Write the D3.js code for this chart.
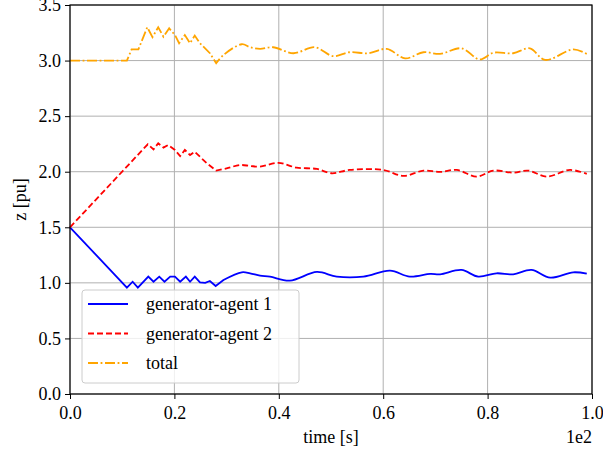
<!DOCTYPE html>
<html>
<head>
<meta charset="utf-8">
<script src="https://cdn.jsdelivr.net/npm/d3@7"></script>
<style>
  body { margin: 0; background: #fff; }
  svg text { font-family: "Liberation Serif", "Times New Roman", "DejaVu Serif", serif; fill: #000; }
</style>
</head>
<body>
<div id="chart"></div>
<script>
// data (time in s, z in pu)
const gen1T = [0, 10.9, 12.0, 13.0, 15.0, 16.0, 17.1, 18.1, 19.2, 20.1, 21.1, 22.2, 23.0, 23.9, 24.9, 25.9, 26.8, 27.9, 29.4, 32.9, 34.5, 36.4, 38.3, 42.1, 47.3, 51.1, 56.2, 61.3, 65.1, 69.0, 70.9, 75.0, 78.2, 81.7, 84.9, 88.4, 92.0, 96.4, 99.0];
const gen1Z = [1.5, 0.957, 1.01, 0.957, 1.056, 1.01, 1.056, 1.01, 1.056, 1.056, 1.01, 1.056, 1.01, 1.056, 1.005, 1.0, 1.017, 0.972, 1.026, 1.095, 1.086, 1.065, 1.056, 1.02, 1.098, 1.056, 1.056, 1.11, 1.056, 1.08, 1.077, 1.116, 1.056, 1.086, 1.077, 1.116, 1.047, 1.095, 1.083];

const gen2T = [0, 14.9, 16.0, 16.9, 17.9, 18.8, 20.1, 21.1, 22.0, 23.0, 23.9, 26.2, 28.0, 30.0, 32.6, 34.5, 36.4, 39.9, 43.4, 47.3, 50.1, 53.6, 60.0, 63.9, 67.7, 70.9, 74.1, 77.9, 81.1, 84.9, 87.8, 91.3, 95.8, 99.0];
const gen2Z = [1.5, 2.247, 2.20, 2.256, 2.217, 2.24, 2.196, 2.14, 2.196, 2.15, 2.18, 2.076, 2.01, 2.03, 2.06, 2.052, 2.046, 2.08, 2.037, 2.025, 1.986, 2.016, 2.016, 1.962, 2.01, 1.998, 2.016, 1.956, 2.01, 1.992, 2.01, 1.956, 2.016, 1.98];

const totalT = [0, 10.9, 11.8, 13.1, 14.8, 15.8, 16.9, 17.9, 19.0, 20.1, 20.9, 22.0, 23.0, 23.9, 24.9, 26.8, 28.0, 29.4, 32.9, 34.5, 36.4, 38.9, 42.8, 46.9, 50.4, 53.6, 57.1, 60.7, 64.2, 67.7, 70.9, 75.0, 78.5, 81.1, 84.9, 88.1, 91.0, 96.4, 99.0];
const totalZ = [3.0, 3.0, 3.10, 3.10, 3.30, 3.21, 3.30, 3.215, 3.29, 3.23, 3.156, 3.23, 3.156, 3.225, 3.156, 3.066, 2.976, 3.05, 3.147, 3.12, 3.105, 3.12, 3.066, 3.12, 3.04, 3.075, 3.066, 3.105, 3.02, 3.075, 3.06, 3.11, 3.01, 3.07, 3.066, 3.11, 3.006, 3.1, 3.06];

const xTicks = [0, 20, 40, 60, 80, 100];
const yTicks = [0, 0.5, 1.0, 1.5, 2.0, 2.5, 3.0, 3.5];

const seriesNames = ['generator-agent 1', 'generator-agent 2', 'total'];
const seriesColors = ['#0000ff', '#ff0000', '#ffa500'];
const seriesDash = ['none', '6,3', '10,2.6,1.8,2.6'];

// after this time the traces are smooth oscillations
const smoothFrom = 28;

const width = 603, height = 450;
const margin = { left: 70, right: 11, top: 5, bottom: 56 };
const fontSize = '18px';

const svg = d3.select('#chart').append('svg')
    .attr('width', width)
    .attr('height', height);

const x = d3.scaleLinear().domain([0, 100]).range([margin.left, width - margin.right]);
const y = d3.scaleLinear().domain([0, 3.5]).range([height - margin.bottom, margin.top]);

// grid
const grid = svg.append('g');
grid.selectAll('line.vx').data(xTicks).enter().append('line')
    .attr('x1', d => x(d)).attr('x2', d => x(d))
    .attr('y1', y(0)).attr('y2', y(3.5))
    .style('stroke', '#b0b0b0').style('stroke-width', 1);
grid.selectAll('line.hy').data(yTicks).enter().append('line')
    .attr('y1', d => y(d)).attr('y2', d => y(d))
    .attr('x1', x(0)).attr('x2', x(100))
    .style('stroke', '#b0b0b0').style('stroke-width', 1);

// lines: straight segments early, smooth curve later
const series = [
    { t: gen1T, z: gen1Z },
    { t: gen2T, z: gen2Z },
    { t: totalT, z: totalZ }
];
const lineSharp = d3.line().x(d => x(d[0])).y(d => y(d[1]));
const lineSmooth = d3.line().x(d => x(d[0])).y(d => y(d[1])).curve(d3.curveCatmullRom.alpha(0.5));
const plot = svg.append('g');
series.forEach((s, i) => {
    const pts = s.t.map((t, j) => [t, s.z[j]]);
    const k = pts.findIndex(p => p[0] >= smoothFrom);
    const early = pts.slice(0, k + 1);
    const late = pts.slice(k);
    const d = lineSharp(early) + lineSmooth(late).replace(/^M/, 'L');
    plot.append('path')
        .attr('d', d)
        .style('fill', 'none')
        .style('stroke', seriesColors[i])
        .style('stroke-width', 1.8)
        .style('stroke-dasharray', seriesDash[i]);
});

// axes
const xAxis = d3.axisBottom(x).tickValues(xTicks).tickSize(5).tickPadding(4)
    .tickFormat(d => (d / 100).toFixed(1));
const yAxis = d3.axisLeft(y).tickValues(yTicks).tickSize(5).tickPadding(4)
    .tickFormat(d3.format('.1f'));

const gx = svg.append('g').attr('transform', `translate(0,${y(0)})`).call(xAxis);
const gy = svg.append('g').attr('transform', `translate(${x(0)},0)`).call(yAxis);
[gx, gy].forEach(g => {
    g.select('.domain').remove();
    g.selectAll('text').style('font-size', fontSize);
    g.selectAll('line').style('stroke', '#000').style('stroke-width', 1);
});
gx.selectAll('text').attr('dy', '0.9em');

// frame
svg.append('rect')
    .attr('x', x(0)).attr('y', y(3.5))
    .attr('width', x(100) - x(0)).attr('height', y(0) - y(3.5))
    .style('fill', 'none').style('stroke', '#000').style('stroke-width', 1.2);

// labels
svg.append('text')
    .attr('x', (x(0) + x(100)) / 2).attr('y', 443)
    .attr('text-anchor', 'middle')
    .style('font-size', fontSize)
    .text('time [s]');
svg.append('text')
    .attr('x', x(100)).attr('y', 443)
    .attr('text-anchor', 'end')
    .style('font-size', fontSize)
    .text('1e2');
svg.append('text')
    .attr('transform', `translate(26,${(y(0) + y(3.5)) / 2}) rotate(-90)`)
    .attr('text-anchor', 'middle')
    .style('font-size', fontSize)
    .text('z [pu]');

// legend
const legend = svg.append('g').attr('transform', 'translate(82,290)');
legend.append('rect')
    .attr('width', 217).attr('height', 93).attr('rx', 3)
    .style('fill', '#fff').style('fill-opacity', 0.8)
    .style('stroke', '#cccccc').style('stroke-width', 1);
seriesNames.forEach((name, i) => {
    const row = legend.append('g').attr('transform', `translate(0,${14 + i * 29.5})`);
    row.append('line')
        .attr('x1', 6).attr('x2', 46)
        .style('stroke', seriesColors[i])
        .style('stroke-width', 1.8)
        .style('stroke-dasharray', seriesDash[i]);
    row.append('text')
        .attr('x', 64).attr('dy', '0.35em')
        .style('font-size', fontSize)
        .text(name);
});
</script>
</body>
</html>
